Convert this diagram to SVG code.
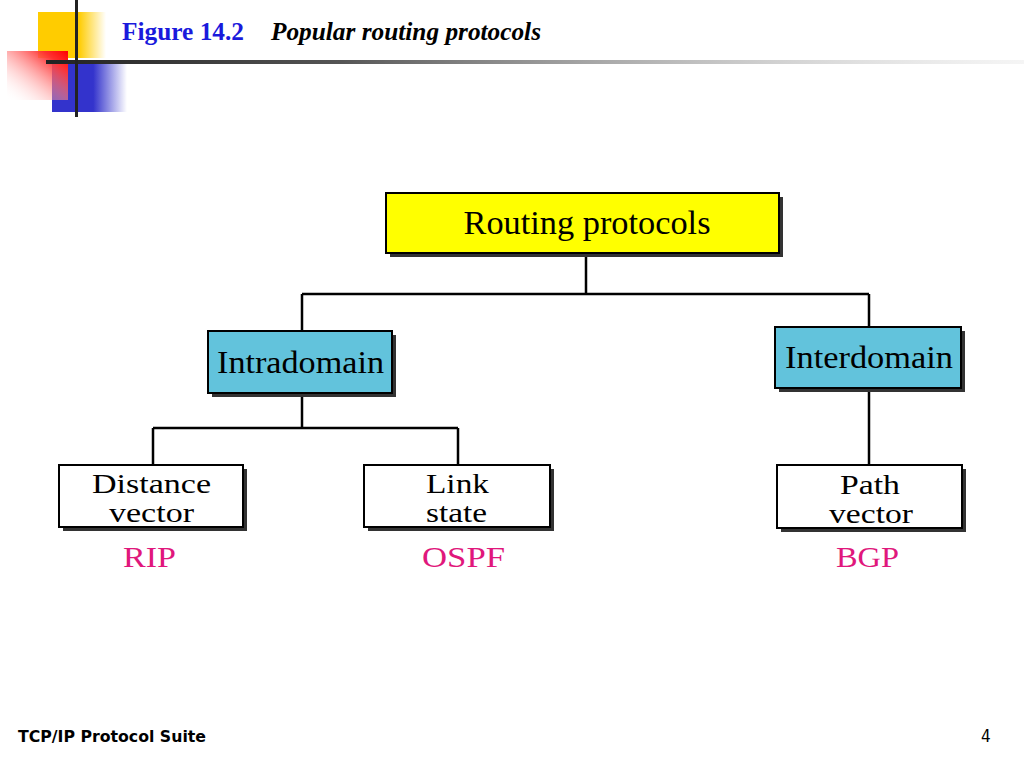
<svg xmlns="http://www.w3.org/2000/svg" width="1024" height="768" viewBox="0 0 1024 768">
<defs>
<linearGradient id="gy" x1="0" y1="0" x2="1" y2="0"><stop offset="0" stop-color="#ffcc00"/><stop offset="0.6" stop-color="#ffcc00"/><stop offset="1" stop-color="#ffcc00" stop-opacity="0"/></linearGradient>
<linearGradient id="gr" x1="1" y1="0" x2="0" y2="1"><stop offset="0" stop-color="#ff0000"/><stop offset="0.2" stop-color="#ff3030"/><stop offset="1" stop-color="#ffffff" stop-opacity="0"/></linearGradient>
<linearGradient id="gb" x1="0" y1="0" x2="1" y2="0"><stop offset="0" stop-color="#3333cc"/><stop offset="0.55" stop-color="#3333cc"/><stop offset="1" stop-color="#3333cc" stop-opacity="0"/></linearGradient>
<linearGradient id="gl" x1="0" y1="0" x2="1" y2="0"><stop offset="0" stop-color="#222"/><stop offset="0.3" stop-color="#555"/><stop offset="1" stop-color="#ddd" stop-opacity="0.3"/></linearGradient>
</defs>
<style>
.box{stroke:#000;stroke-width:2}
.sh{fill:#333}
.t{font-family:"Liberation Serif","Times New Roman",serif;fill:#000;text-anchor:middle}
.p{font-family:"Liberation Serif","Times New Roman",serif;fill:#e0177c;text-anchor:middle;font-size:30px}
.c{fill:none;stroke:#000;stroke-width:2.5}
</style>
<rect width="1024" height="768" fill="#fff"/>
<g id="decor">
<rect x="38" y="12" width="68" height="46" fill="url(#gy)"/>
<rect x="52" y="62" width="75" height="50" fill="url(#gb)"/>
<rect x="7" y="51" width="61" height="49" fill="url(#gr)"/>
<rect x="46" y="60" width="978" height="4" fill="url(#gl)"/>
<rect x="75" y="0" width="3" height="117" fill="#222"/>
</g>
<g id="title">
<text x="122" y="40" font-family="Liberation Serif,serif" font-weight="bold" font-size="25" fill="#1a1adc" textLength="122" lengthAdjust="spacingAndGlyphs">Figure 14.2</text>
<text x="271" y="40" font-family="Liberation Serif,serif" font-weight="bold" font-style="italic" font-size="25" fill="#000" textLength="270" lengthAdjust="spacingAndGlyphs">Popular routing protocols</text>
</g>
<g id="connectors">
<path class="c" d="M586 253V294M302 294H869M302 294V331M869 294V327"/>
<path class="c" d="M302 393V428M153 428H458M153 428V465M458 428V465"/>
<path class="c" d="M869 388V465"/>
</g>
<g id="root">
<rect class="sh" x="390" y="197" width="393" height="60"/>
<rect class="box" x="386" y="193" width="393" height="60" fill="#ffff00"/>
<text class="t" x="587" y="234" font-size="33" textLength="247" lengthAdjust="spacingAndGlyphs">Routing protocols</text>
</g>
<g id="intradomain">
<rect class="sh" x="212" y="335" width="184" height="62"/>
<rect class="box" x="208" y="331" width="184" height="62" fill="#62c3dc"/>
<text class="t" x="300.5" y="373" font-size="32" textLength="167" lengthAdjust="spacingAndGlyphs">Intradomain</text>
</g>
<g id="interdomain">
<rect class="sh" x="779" y="331" width="186" height="61"/>
<rect class="box" x="775" y="327" width="186" height="61" fill="#62c3dc"/>
<text class="t" x="869" y="368" font-size="32" textLength="168" lengthAdjust="spacingAndGlyphs">Interdomain</text>
</g>
<g id="distance">
<rect class="sh" x="63" y="469" width="184" height="62"/>
<rect class="box" x="59" y="465" width="184" height="62" fill="#fff"/>
<text class="t" x="151.5" y="493" font-size="28" textLength="119" lengthAdjust="spacingAndGlyphs">Distance</text>
<text class="t" x="151.5" y="522" font-size="28" textLength="85" lengthAdjust="spacingAndGlyphs">vector</text>
</g>
<g id="link">
<rect class="sh" x="368" y="469" width="186" height="62"/>
<rect class="box" x="364" y="465" width="186" height="62" fill="#fff"/>
<text class="t" x="457.5" y="493" font-size="28" textLength="63" lengthAdjust="spacingAndGlyphs">Link</text>
<text class="t" x="456.5" y="522" font-size="28" textLength="61" lengthAdjust="spacingAndGlyphs">state</text>
</g>
<g id="path">
<rect class="sh" x="781" y="469" width="185" height="63"/>
<rect class="box" x="777" y="465" width="185" height="63" fill="#fff"/>
<text class="t" x="870" y="494" font-size="28" textLength="60" lengthAdjust="spacingAndGlyphs">Path</text>
<text class="t" x="871" y="523" font-size="28" textLength="84" lengthAdjust="spacingAndGlyphs">vector</text>
</g>
<g id="labels">
<text class="p" x="149.5" y="567" textLength="53" lengthAdjust="spacingAndGlyphs">RIP</text>
<text class="p" x="463.5" y="567" textLength="83" lengthAdjust="spacingAndGlyphs">OSPF</text>
<text class="p" x="867.5" y="567" textLength="63" lengthAdjust="spacingAndGlyphs">BGP</text>
</g>
<g id="footer">
<text x="18" y="742" font-family="DejaVu Sans Condensed,DejaVu Sans,sans-serif" font-weight="bold" font-size="16" fill="#000" textLength="188" lengthAdjust="spacingAndGlyphs">TCP/IP Protocol Suite</text>
<text x="981" y="742" font-family="DejaVu Sans Condensed,DejaVu Sans,sans-serif" font-size="17" fill="#000">4</text>
</g>
</svg>
